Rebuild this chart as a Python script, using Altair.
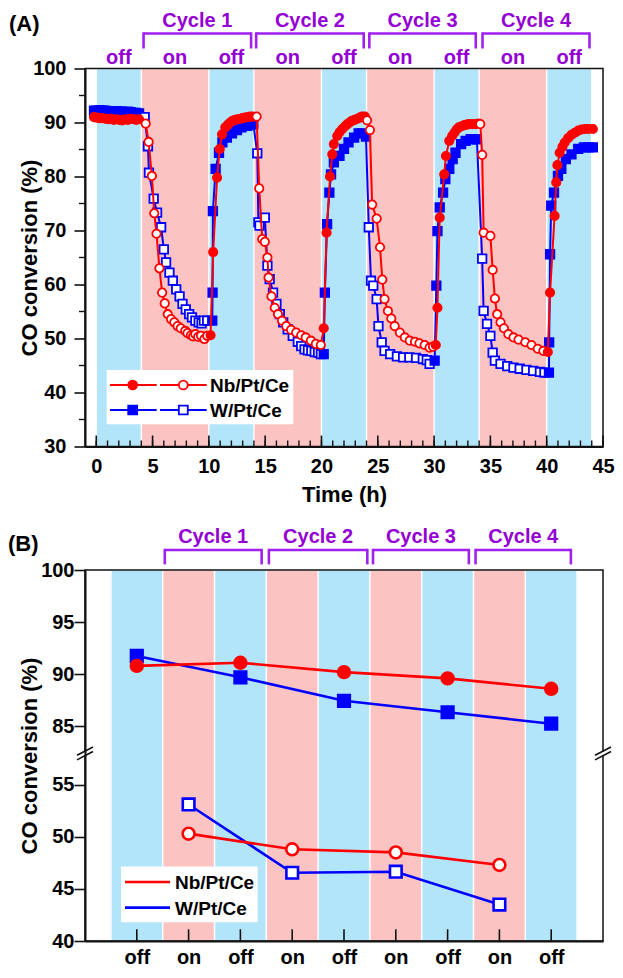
import json
import altair as alt
import pandas as pd

FONT = "Liberation Sans"
RED = "#ff0000"
BLUE = "#0000ff"
BAND_BLUE = "#b3e5fa"
BAND_PINK = "#fcc3c3"
PURPLE_TXT = "#9400d3"
PURPLE_BR = "#a020f0"
INK = "#111111"

# ---------------- data: panel A ----------------
band_start = [0, 4, 10, 14, 20, 24, 30, 34, 40]
band_end = [4, 10, 14, 20, 24, 30, 34, 40, 44]
band_state = ["off", "on", "off", "on", "off", "on", "off", "on", "off"]

nb_time = [-0.2, 0.05, 0.3, 0.55, 0.8, 1.05, 1.3, 1.55, 1.8, 2.05, 2.3, 2.55, 2.8, 3.05, 3.3, 3.55, 3.8,
           4.39, 4.65, 4.94, 5.15, 5.35, 5.61, 5.85, 6.08, 6.35, 6.64, 6.93, 7.22, 7.5, 7.9, 8.1, 8.4, 8.6, 8.8, 9.05, 9.3, 9.6, 9.85,
           10.15, 10.38, 10.73, 10.96, 11.17, 11.46, 11.7, 11.9, 12.1, 12.34, 12.55, 12.8, 13.0, 13.2, 13.45, 13.65, 13.9,
           14.24, 14.47, 14.74, 14.97, 15.2, 15.3, 15.56, 15.85, 16.14, 16.5, 16.87, 17.3, 17.75, 18.2, 18.6, 19.06, 19.5, 19.94,
           20.2, 20.45, 20.76, 20.96, 21.1, 21.4, 21.6, 21.85, 22.1, 22.3, 22.5, 22.7, 22.95, 23.2, 23.4, 23.6, 23.85,
           24.05, 24.3, 24.5, 24.9, 25.2, 25.4, 25.6, 25.9, 26.2, 26.5, 26.96, 27.4, 27.84, 28.3, 28.7, 29.16, 29.6, 29.9,
           30.15, 30.3, 30.5, 30.9, 31.05, 31.35, 31.6, 31.8, 32.0, 32.2, 32.45, 32.7, 32.9, 33.1, 33.4, 33.7, 33.95,
           34.1, 34.27, 34.4, 35.0, 35.2, 35.4, 35.6, 35.9, 36.2, 36.6, 37.05, 37.5, 38.1, 38.65, 39.2, 39.7,
           40.1, 40.3, 40.7, 40.85, 40.95, 41.15, 41.4, 41.6, 41.9, 42.2, 42.5, 42.8, 43.1, 43.4, 43.7, 44.1]
nb_conv = [91.0, 90.9, 90.8, 90.8, 90.7, 90.6, 90.7, 90.5, 90.6, 90.5, 90.4, 90.6, 90.5, 90.7, 90.6, 90.5, 90.6,
           89.8, 86.4, 80.1, 73.2, 69.4, 63.0, 58.5, 56.5, 54.5, 53.6, 53.0, 52.3, 51.9, 51.4, 51.0, 50.6, 50.4, 50.8, 50.3, 50.5, 49.9, 50.5,
           50.6, 66.0, 79.8, 85.1, 87.8, 89.1, 89.6, 90.0, 90.3, 90.5, 90.6, 90.7, 90.8, 90.9, 91.0, 91.1, 91.1,
           91.1, 77.8, 68.4, 67.9, 65.0, 61.3, 57.8, 55.7, 54.5, 53.3, 52.3, 51.6, 51.1, 50.6, 50.2, 49.6, 49.0, 48.8,
           51.9, 69.6, 80.0, 84.1, 86.0, 87.5, 88.2, 88.8, 89.3, 89.7, 90.0, 90.3, 90.5, 90.7, 90.9, 91.1, 91.1,
           90.4, 88.6, 74.8, 72.2, 66.9, 60.9, 57.3, 55.1, 53.7, 52.3, 51.1, 50.2, 49.6, 49.4, 49.1, 48.8, 48.3, 48.5,
           48.8, 55.7, 72.4, 80.4, 83.8, 86.6, 87.5, 88.1, 88.7, 89.1, 89.3, 89.5, 89.6, 89.7, 89.7, 89.7, 89.8,
           89.7, 84.0, 69.6, 69.0, 62.7, 57.4, 54.5, 53.0, 51.9, 50.8, 50.2, 49.8, 49.3, 48.8, 48.1, 47.7,
           47.5, 58.5, 72.7, 78.9, 82.1, 84.4, 85.5, 86.3, 87.1, 87.7, 88.1, 88.5, 88.7, 88.8, 88.8, 88.8]

w_time = [-0.2, 0.05, 0.3, 0.55, 0.8, 1.05, 1.3, 1.55, 1.8, 2.05, 2.3, 2.55, 2.8, 3.05, 3.3, 3.55, 3.8,
          4.3, 4.59, 4.68, 5.1, 5.4, 5.76, 6.0, 6.2, 6.5, 6.8, 7.1, 7.4, 7.66, 7.95, 8.25, 8.5, 8.8, 9.1, 9.35, 9.56, 9.85,
          10.3, 10.33, 10.36, 10.6, 10.9, 11.2, 11.6, 12.05, 12.5, 12.9, 13.4, 13.7, 13.95,
          14.3, 14.4, 14.5, 14.97, 15.2, 15.4, 15.7, 16.0, 16.3, 16.6, 17.0, 17.45, 17.9, 18.2, 18.5, 18.8, 19.1, 19.4, 19.7, 19.95,
          20.2, 20.3, 20.5, 20.7, 20.85, 21.1, 21.6, 22.0, 22.4, 22.9, 23.3, 23.6, 23.95,
          24.2, 24.4, 24.6, 24.9, 25.06, 25.35, 25.6, 26.1, 26.7, 27.25, 27.8, 28.4, 29.0, 29.35, 29.6,
          30.05, 30.2, 30.3, 30.5, 30.8, 31.0, 31.35, 31.65, 31.9, 32.4, 32.8, 33.25, 33.8,
          34.27, 34.4, 34.7, 35.0, 35.2, 35.4, 35.9, 36.5, 37.05, 37.6, 38.2, 38.8, 39.4, 39.8,
          40.2, 40.22, 40.3, 40.4, 40.65, 41.0, 41.3, 41.7, 42.2, 42.8, 43.3, 43.7, 44.1]
w_conv = [92.2, 92.2, 92.3, 92.2, 92.2, 92.1, 92.1, 92.0, 92.1, 92.0, 92.0, 91.9, 92.0, 91.9, 91.8, 91.8, 91.7,
          91.0, 85.6, 80.7, 75.9, 73.3, 70.6, 66.5, 64.1, 62.2, 60.7, 59.1, 57.8, 56.4, 55.4, 54.5, 53.9, 53.3, 53.0, 52.8, 53.3, 53.3,
          53.3, 58.5, 73.6, 81.4, 84.4, 86.3, 87.2, 88.0, 88.6, 89.1, 89.4, 89.6, 89.7,
          84.3, 71.5, 70.9, 72.4, 63.5, 61.0, 58.5, 56.4, 54.5, 53.0, 51.7, 50.5, 49.4, 48.6, 48.0, 47.8, 47.7, 47.5, 47.4, 47.1,
          47.1, 58.5, 71.2, 77.0, 80.4, 82.6, 83.8, 85.1, 86.3, 87.2, 88.0, 88.0, 87.4,
          70.6, 60.7, 59.8, 57.3, 52.3, 49.3, 47.7, 47.1, 46.7, 46.5, 46.5, 46.4, 46.2, 46.0, 45.3,
          45.9, 59.8, 69.9, 74.3, 77.0, 79.5, 81.4, 83.2, 84.4, 86.0, 86.6, 86.9, 86.9,
          64.8, 55.1, 52.7, 50.5, 47.4, 45.9, 45.3, 44.9, 44.6, 44.4, 44.2, 44.0, 43.8, 43.7,
          43.7, 49.3, 65.6, 74.6, 77.0, 80.1, 81.4, 83.2, 84.1, 85.1, 85.4, 85.4, 85.4]

cycle_labels = ["Cycle 1", "Cycle 2", "Cycle 3", "Cycle 4"]
cycle_start_a = [4.2, 14.2, 24.25, 34.3]
cycle_end_a = [13.75, 23.75, 33.7, 43.8]

x_major_a = [0, 5, 10, 15, 20, 25, 30, 35, 40, 45]
x_minor_a = list(range(0, 46))
y_major_a = [30, 40, 50, 60, 70, 80, 90, 100]
y_minor_a = [35, 45, 55, 65, 75, 85, 95]

# ---------------- data: panel B ----------------
b_pos = [1, 2, 3, 4, 5, 6, 7, 8, 9]
b_labels = ["off", "on", "off", "on", "off", "on", "off", "on", "off"]
nb_b = [90.8, 50.3, 91.1, 48.8, 90.2, 48.5, 89.6, 47.3, 88.6]
w_b = [91.75, 53.1, 89.7, 46.55, 87.45, 46.65, 86.35, 43.5, 85.25]
cycle_start_b = [1.54, 3.55, 5.56, 7.54]
cycle_end_b = [3.41, 5.45, 7.41, 9.38]
y_lower_b = [40, 45, 50, 55]
y_upper_b = [85, 90, 95, 100]
BREAK_SHIFT = 24.4  # upper segment drawn shifted down by this amount
BREAK_AT = 58.0

# ---------------- layout (pixels) ----------------
# The page body is 607 px wide; the svg must not be wider or it gets shrunk.
W_A, H_A = 518, 378
W_B, H_B = 518, 371
GAP = 123.5
ANCHOR_TOP = 70      # invisible bound marker above plot A
ANCHOR_LEFT = 80     # invisible bound marker left of both plots
ANCHOR_RIGHT = 12    # invisible bound marker right of both plots
ANCHOR_BOTTOM = 40   # invisible bound marker below plot B
PAD_TOP = 60.5 - ANCHOR_TOP
PAD_LEFT = 77 - ANCHOR_LEFT
PAD_RIGHT = 607 - (ANCHOR_LEFT + W_A + ANCHOR_RIGHT + PAD_LEFT)
PAD_BOTTOM = 962 - (ANCHOR_TOP + H_A + GAP + H_B + ANCHOR_BOTTOM + PAD_TOP)

# ---------------- helpers ----------------
def state_of(t):
    for s, e, st in zip(band_start, band_end, band_state):
        if s <= t < e:
            return st
    return "off"

nb_df = pd.DataFrame({"t": nb_time, "v": nb_conv})
nb_df["state"] = [state_of(t) for t in nb_time]
w_df = pd.DataFrame({"t": w_time, "v": w_conv})
w_df["state"] = [state_of(t) for t in w_time]
bands_a = pd.DataFrame({"t": band_start, "t2": band_end, "state": band_state})
bands_a["c"] = (bands_a["t"] + bands_a["t2"]) / 2
cyc_a = pd.DataFrame({"t": cycle_start_a, "t2": cycle_end_a, "label": cycle_labels})
cyc_a["c"] = (cyc_a["t"] + cyc_a["t2"]) / 2
one = pd.DataFrame({"a": [0]})

SX_A = alt.Scale(domain=[-1, 45], nice=False, zero=False)
SY_A = alt.Scale(domain=[30, 100], nice=False, zero=False)
AX_XA = alt.Axis(values=x_major_a, ticks=False, tickSize=0, labelPadding=26, labelBaseline="alphabetic",
                 titleY=55, titleBaseline="alphabetic", domainWidth=2, zindex=1)
AX_YA = alt.Axis(values=y_major_a, tickSize=11, tickWidth=1.6, labelPadding=8,
                 titleX=-49, titleBaseline="alphabetic", domainWidth=2, zindex=1)


def XA(f):
    return alt.X(f + ":Q", scale=SX_A, axis=AX_XA, title="Time (h)")


def YA(f):
    return alt.Y(f + ":Q", scale=SY_A, axis=AX_YA, title="CO conversion (%)")


def fill_cond(color):
    return alt.condition("datum.state == 'on'", alt.value("white"), alt.value(color))


def anchor(x, y):
    return alt.Chart(one).mark_rect(opacity=0).encode(
        x=alt.value(x), x2=alt.value(x + 1), y=alt.value(y), y2=alt.value(y + 1))


band_color = alt.Color("state:N", scale=alt.Scale(domain=["off", "on"], range=[BAND_BLUE, BAND_PINK]), legend=None)

# ---------------- panel A ----------------
a_bands = alt.Chart(bands_a).mark_rect(xOffset=0.7, x2Offset=-0.7).encode(
    x=XA("t"), x2="t2", y=alt.value(0.8), y2=alt.value(H_A), color=band_color)

xt_minor = alt.Chart(pd.DataFrame({"t": x_minor_a})).mark_rule(color=INK, strokeWidth=1.4).encode(
    x=XA("t"), y=alt.value(H_A), y2=alt.value(H_A - 6))
xt_major = alt.Chart(pd.DataFrame({"t": x_major_a})).mark_rule(color=INK, strokeWidth=1.6).encode(
    x=XA("t"), y=alt.value(H_A), y2=alt.value(H_A - 11))
yt_minor = alt.Chart(pd.DataFrame({"v": y_minor_a})).mark_rule(color=INK, strokeWidth=1.4).encode(
    y=YA("v"), x=alt.value(-6), x2=alt.value(0))

w_line = alt.Chart(w_df).mark_line(color=BLUE, strokeWidth=2).encode(x=XA("t"), y=YA("v"))
w_pts = alt.Chart(w_df).mark_point(shape="square", size=72, filled=True, opacity=1, stroke=BLUE,
                                    strokeWidth=1.8).encode(x=XA("t"), y=YA("v"), fill=fill_cond(BLUE))
nb_line = alt.Chart(nb_df).mark_line(color=RED, strokeWidth=2).encode(x=XA("t"), y=YA("v"))
nb_pts = alt.Chart(nb_df).mark_point(shape="circle", size=70, filled=True, opacity=1, stroke=RED,
                                     strokeWidth=1.8).encode(x=XA("t"), y=YA("v"), fill=fill_cond(RED))

frame_a = alt.Chart(one).mark_rect(fill="transparent", stroke=INK, strokeWidth=1.5).encode(
    x=alt.value(0), x2=alt.value(W_A), y=alt.value(0), y2=alt.value(H_A))

onoff_a = alt.Chart(bands_a).mark_text(font=FONT, fontSize=20, fontWeight="bold", color=PURPLE_TXT,
                                       baseline="alphabetic", align="center").encode(
    x=XA("c"), y=alt.value(-5), text="state:N")
cyc_text_a = alt.Chart(cyc_a).mark_text(font=FONT, fontSize=20, fontWeight="bold", color=PURPLE_TXT,
                                        baseline="alphabetic", align="center").encode(
    x=XA("c"), y=alt.value(-42), text="label:N")
br_top_a = alt.Chart(cyc_a).mark_rule(color=PURPLE_BR, strokeWidth=2.6).encode(
    x=XA("t"), x2="t2", y=alt.value(-35))
br_l_a = alt.Chart(cyc_a).mark_rule(color=PURPLE_BR, strokeWidth=2.6).encode(
    x=XA("t"), y=alt.value(-36.2), y2=alt.value(-20))
br_r_a = alt.Chart(cyc_a).mark_rule(color=PURPLE_BR, strokeWidth=2.6).encode(
    x=XA("t2"), y=alt.value(-36.2), y2=alt.value(-20))

tag_a = alt.Chart(one).mark_text(font=FONT, fontSize=22, fontWeight="bold", color="black",
                                 align="left", baseline="middle").encode(
    x=alt.value(-76), y=alt.value(-44.5), text=alt.value("(A)"))

# legend A
leg_box_a = alt.Chart(one).mark_rect(fill="white").encode(
    x=alt.value(21.7), x2=alt.value(208.3), y=alt.value(301.5), y2=alt.value(355.8))
leg_items = []
for yy, col, shp, name in [(316.5, RED, "circle", "Nb/Pt/Ce"), (341.5, BLUE, "square", "W/Pt/Ce")]:
    for xa, xb in [(25, 71.7), (75, 121.7)]:
        leg_items.append(alt.Chart(one).mark_rule(color=col, strokeWidth=2).encode(
            x=alt.value(xa), x2=alt.value(xb), y=alt.value(yy)))
    leg_items.append(alt.Chart(one).mark_point(shape=shp, size=80, filled=True, opacity=1, stroke=col,
                                               strokeWidth=1.8, fill=col).encode(
        x=alt.value(47.7), y=alt.value(yy)))
    leg_items.append(alt.Chart(one).mark_point(shape=shp, size=80, filled=True, opacity=1, stroke=col,
                                               strokeWidth=1.8, fill="white").encode(
        x=alt.value(98.3), y=alt.value(yy)))
    leg_items.append(alt.Chart(one).mark_text(font=FONT, fontSize=19, fontWeight="bold", color="black",
                                              align="left", baseline="middle").encode(
        x=alt.value(125), y=alt.value(yy + 1), text=alt.value(name)))

panel_a = alt.layer(a_bands, xt_minor, xt_major, yt_minor, w_line, w_pts, nb_line, nb_pts, frame_a,
                    onoff_a, cyc_text_a, br_top_a, br_l_a, br_r_a, tag_a, leg_box_a, *leg_items,
                    anchor(-ANCHOR_LEFT, -ANCHOR_TOP), anchor(W_A + ANCHOR_RIGHT - 1, -ANCHOR_TOP)
                    ).properties(width=W_A, height=H_A)

# ---------------- panel B ----------------
b_df = pd.DataFrame({
    "p": b_pos * 2,
    "v": nb_b + w_b,
    "series": ["Nb"] * 9 + ["W"] * 9,
    "state": b_labels * 2,
})
bands_b = pd.DataFrame({"p": [p - 0.5 for p in b_pos], "p2": [p + 0.5 for p in b_pos], "state": b_labels})
cyc_b = pd.DataFrame({"p": cycle_start_b, "p2": cycle_end_b, "label": cycle_labels})
cyc_b["c"] = (cyc_b["p"] + cyc_b["p2"]) / 2

SX_B = alt.Scale(domain=[0, 10], nice=False, zero=False)
SY_B = alt.Scale(domain=[40, 100 - BREAK_SHIFT], nice=False, zero=False)
AX_XB = alt.Axis(values=b_pos, labelExpr=json.dumps(b_labels) + "[datum.value - 1]", ticks=False, tickSize=0,
                 labelPadding=22, labelBaseline="alphabetic", domainWidth=2, zindex=1)
AX_YB = alt.Axis(values=y_lower_b + [v - BREAK_SHIFT for v in y_upper_b],
                 labelExpr=f"datum.value > {BREAK_AT} ? format(datum.value + {BREAK_SHIFT}, '.0f') : format(datum.value, '.0f')",
                 tickSize=11, tickWidth=1.6, labelPadding=0, titleX=-49, titleBaseline="alphabetic",
                 domainWidth=2, zindex=1)


def XB(f):
    return alt.X(f + ":Q", scale=SX_B, axis=AX_XB, title=None)


def YB(f):
    return alt.Y(f + ":Q", scale=SY_B, axis=AX_YB, title="CO conversion (%)")


b_bands = alt.Chart(bands_b).mark_rect(xOffset=0.7, x2Offset=-0.7).encode(
    x=XB("p"), x2="p2", y=alt.value(0.8), y2=alt.value(H_B), color=band_color)
b_ticks = alt.Chart(pd.DataFrame({"p": b_pos})).mark_rule(color=INK, strokeWidth=1.6).encode(
    x=XB("p"), y=alt.value(H_B), y2=alt.value(H_B - 11.7))

b_base = alt.Chart(b_df).transform_calculate(
    y=f"datum.v > 70 ? datum.v - {BREAK_SHIFT} : datum.v")
b_layers = []
for ser, col, shp in [("W", BLUE, "square"), ("Nb", RED, "circle")]:
    sub = b_base.transform_filter(f"datum.series == '{ser}'")
    b_layers.append(sub.mark_line(color=col, strokeWidth=2.6).encode(
        x=XB("p"), y=YB("y"), detail="state:N"))
    b_layers.append(sub.mark_point(shape=shp, size=140 if shp == "circle" else 135, filled=True, opacity=1,
                                   stroke=col, strokeWidth=2.6).encode(
        x=XB("p"), y=YB("y"), fill=fill_cond(col)))

frame_b = alt.Chart(one).mark_rect(fill="transparent", stroke=INK, strokeWidth=1.5).encode(
    x=alt.value(0), x2=alt.value(W_B), y=alt.value(0), y2=alt.value(H_B))

breaks = []
for xc in [0, W_B]:
    breaks.append(alt.Chart(one).mark_rule(color="white", strokeWidth=5).encode(
        x=alt.value(xc), y=alt.Y(datum=BREAK_AT - 0.2, scale=SY_B), y2=alt.Y2(datum=BREAK_AT + 0.2)))
    for d in [-0.22, 0.22]:
        breaks.append(alt.Chart(one).mark_rule(color=INK, strokeWidth=1.6).encode(
            x=alt.value(xc - 8), x2=alt.value(xc + 8),
            y=alt.Y(datum=BREAK_AT + d - 0.4, scale=SY_B), y2=alt.Y2(datum=BREAK_AT + d + 0.4)))

cyc_text_b = alt.Chart(cyc_b).mark_text(font=FONT, fontSize=20, fontWeight="bold", color=PURPLE_TXT,
                                        baseline="alphabetic", align="center").encode(
    x=XB("c"), y=alt.value(-27.3), text="label:N")
br_top_b = alt.Chart(cyc_b).mark_rule(color=PURPLE_BR, strokeWidth=2.6).encode(
    x=XB("p"), x2="p2", y=alt.value(-20))
br_l_b = alt.Chart(cyc_b).mark_rule(color=PURPLE_BR, strokeWidth=2.6).encode(
    x=XB("p"), y=alt.value(-21.2), y2=alt.value(-5.6))
br_r_b = alt.Chart(cyc_b).mark_rule(color=PURPLE_BR, strokeWidth=2.6).encode(
    x=XB("p2"), y=alt.value(-21.2), y2=alt.value(-5.6))

tag_b = alt.Chart(one).mark_text(font=FONT, fontSize=22, fontWeight="bold", color="black",
                                 align="left", baseline="middle").encode(
    x=alt.value(-77), y=alt.value(-26), text=alt.value("(B)"))

leg_box_b = alt.Chart(one).mark_rect(fill="white").encode(
    x=alt.value(36), x2=alt.value(172.7), y=alt.value(H_B - 74.4), y2=alt.value(H_B - 18.7))
leg_b = []
for yy, col, name in [(H_B - 59, RED, "Nb/Pt/Ce"), (H_B - 33.4, BLUE, "W/Pt/Ce")]:
    leg_b.append(alt.Chart(one).mark_rule(color=col, strokeWidth=2.6).encode(
        x=alt.value(40), x2=alt.value(85), y=alt.value(yy)))
    leg_b.append(alt.Chart(one).mark_text(font=FONT, fontSize=19, fontWeight="bold", color="black",
                                          align="left", baseline="middle").encode(
        x=alt.value(90), y=alt.value(yy + 1), text=alt.value(name)))

panel_b = alt.layer(b_bands, b_ticks, *b_layers, frame_b, *breaks, cyc_text_b, br_top_b, br_l_b, br_r_b,
                    tag_b, leg_box_b, *leg_b, anchor(-ANCHOR_LEFT, H_B + ANCHOR_BOTTOM - 1)
                    ).properties(width=W_B, height=H_B)

chart = alt.vconcat(panel_a, panel_b, spacing=GAP, bounds="flush").properties(
    padding={"left": PAD_LEFT, "top": PAD_TOP, "right": PAD_RIGHT, "bottom": PAD_BOTTOM}
).configure_axis(
    labelFont=FONT, labelFontSize=20, labelFontWeight="bold", labelColor="black",
    titleFont=FONT, titleFontSize=22, titleFontWeight="bold", titleColor="black",
    domainColor=INK, tickColor=INK, labelFlush=False, labelOverlap=False, grid=False
).configure_view(strokeWidth=0)

chart.save("out.html", embed_options={"renderer": "svg", "actions": False})
